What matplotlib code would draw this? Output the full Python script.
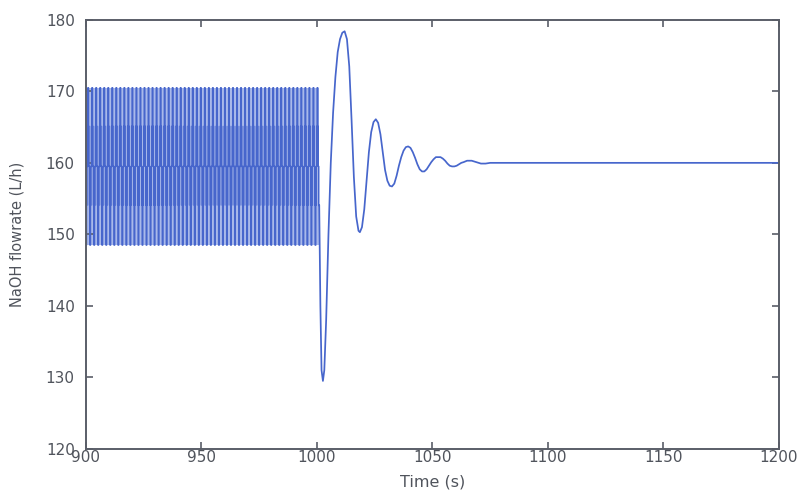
import numpy as np
import matplotlib
matplotlib.use("Agg")
from matplotlib import pyplot as plt

plt.rcParams['font.family'] = ['DejaVu Sans']
plt.rcParams['path.simplify'] = False

# staircase limit cycle before t = 1000 s (levels)
levels = [148.5, 154.1, 159.5, 165.1, 170.5]
cycle_idx = [0, 1, 2, 3, 4, 3, 2, 1]
n_cycles = 58
t_start = 900.0
t_switch = 1001.0

# damped response after the controller change
t_damped = [1001.0, 1001.5, 1002.0, 1002.6, 1003.2, 1004.0, 1005.0, 1006.0, 1007.0,
            1008.0, 1009.0, 1010.0, 1011.0, 1012.0, 1013.0, 1014.0, 1015.0, 1016.0,
            1017.0, 1018.0, 1018.6, 1019.5, 1020.5, 1021.5, 1022.5, 1023.5, 1024.5,
            1025.5, 1026.5, 1027.5, 1028.5, 1029.5, 1030.5, 1031.5, 1032.5, 1033.5,
            1034.5, 1035.5, 1036.5, 1037.5, 1038.5, 1039.5, 1040.5, 1041.5, 1042.5,
            1043.5, 1044.5, 1045.5, 1046.5, 1047.5, 1048.5, 1049.5, 1050.5, 1051.5,
            1052.5, 1053.5, 1054.5, 1055.5, 1056.5, 1057.5, 1058.5, 1059.5, 1060.5,
            1061.5, 1062.5, 1063.5, 1065.0, 1067.0, 1069.0, 1071.0, 1073.0, 1075.0,
            1200.0]
y_damped = [154.0, 140.0, 131.0, 129.5, 131.0, 138.0, 150.0, 160.0, 167.0,
            172.0, 175.5, 177.3, 178.2, 178.4, 177.3, 173.5, 166.0, 158.0,
            152.5, 150.5, 150.3, 151.0, 153.5, 157.5, 161.5, 164.3, 165.7,
            166.1, 165.6, 164.0, 161.5, 159.0, 157.5, 156.8, 156.7, 157.1,
            158.2, 159.6, 160.8, 161.7, 162.2, 162.3, 162.1, 161.5, 160.7,
            159.8, 159.1, 158.8, 158.8, 159.1, 159.6, 160.1, 160.5, 160.8,
            160.8, 160.8, 160.6, 160.3, 159.9, 159.6, 159.5, 159.5, 159.6,
            159.8, 160.0, 160.1, 160.3, 160.3, 160.1, 159.9, 159.9, 160.0,
            160.0]

xticks = [900, 950, 1000, 1050, 1100, 1150, 1200]
yticks = [120, 130, 140, 150, 160, 170, 180]

# build the staircase samples from the level pattern
y_stair = np.array([levels[i] for i in cycle_idx * n_cycles])
t_stair = np.linspace(t_start, t_switch, len(y_stair), endpoint=False)
# close the last step so it joins the damped part
t_stair_plot = np.append(t_stair, t_damped[0])
y_stair_plot = np.append(y_stair, y_damped[0])

line_col = '#4766cc'
haze_col = '#a9b9ea'
axis_col = '#5a5e68'
text_col = '#50545c'

fig = plt.figure(figsize=(8.03, 4.96), dpi=100)
ax = fig.add_axes([0.107, 0.095, 0.863, 0.865])
# the dense switching region reads as a light blue block between the strokes
ax.fill_between(t_stair, min(levels), max(levels), color=haze_col, lw=0)
stair, = ax.plot(t_stair_plot, y_stair_plot, color=line_col, lw=1.1,
                 drawstyle='steps-post')
stair.set_snap(False)
ax.plot(t_damped, y_damped, color=line_col, lw=1.25)

ax.set_xlim(900, 1200)
ax.set_ylim(120, 180)
ax.set_xticks(xticks)
ax.set_yticks(yticks)
ax.tick_params(direction='in', top=True, right=True, length=5, width=1.2,
               colors=axis_col, labelcolor=text_col, labelsize=11)
ax.tick_params(axis='x', pad=1)
ax.tick_params(axis='y', pad=8)
for s in ax.spines.values():
    s.set_color(axis_col)
    s.set_linewidth(1.4)

ax.set_xlabel('Time (s)', fontsize=11.5, color=text_col, labelpad=7)
ax.set_ylabel('NaOH flowrate (L/h)', fontsize=10.5, color=text_col)
ax.yaxis.set_label_coords(-0.088, 0.5)

fig.savefig('out.png', dpi=100)
